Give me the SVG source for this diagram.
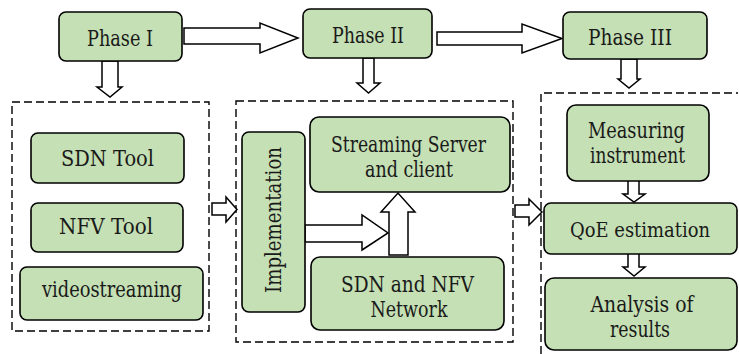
<svg xmlns="http://www.w3.org/2000/svg" width="739" height="354" viewBox="0 0 739 354">
<style>
.n{fill:#c5e0b4;stroke:#000;stroke-width:1.6}
.d{fill:none;stroke:#000;stroke-width:1.4;stroke-dasharray:8 4}
.a{fill:#fff;stroke:#000;stroke-width:1.5;stroke-linejoin:miter}
text{font-family:'DejaVu Serif','Liberation Serif','Times New Roman',serif;font-size:22.5px;fill:#1a1a1a;text-anchor:middle}
</style>
<rect width="739" height="354" fill="#fff"/>
<g id="containers">
<rect class="d" x="12" y="102" width="197" height="229"/>
<rect class="d" x="236" y="101" width="277" height="241"/>
<path class="d" d="M541,354 V93 H738"/>
</g>
<g id="connectors">
<polygon class="a" points="184,28 260,28 260,23 298,38 260,53 260,44 184,44"/>
<polygon class="a" points="437,32 522,32 522,24 562,38.5 522,53 522,45 437,45"/>
<polygon class="a" points="102,61 118,61 118,87 122,87 110,97 97,87 102,87"/>
<polygon class="a" points="363,58 374,58 374,83 380,83 368.5,93 357,83 363,83"/>
<polygon class="a" points="621,59 637,59 637,79 640,79 629,88 618,79 621,79"/>
<polygon class="a" points="212,203 226,203 226,197 237,209.5 226,222 226,215 212,215"/>
<polygon class="a" points="515,205 529,205 529,199 542,212 529,225 529,217 515,217"/>
<polygon class="a" points="305,225 362,225 362,215 388,233 362,250 362,242 305,242"/>
<polygon class="a" points="389,255 408,255 408,212 415,212 398,193 381,212 389,212"/>
<polygon class="a" points="628,180 639,180 639,194 645,194 634,202 623,194 628,194"/>
<polygon class="a" points="628,253 639,253 639,267 645,267 634,276 623,267 628,267"/>
</g>
<g id="phase1"><rect class="n" x="59" y="12" width="123" height="49" rx="7"/><text x="120" y="46" textLength="66" lengthAdjust="spacingAndGlyphs">Phase I</text></g>
<g id="phase2"><rect class="n" x="303" y="9" width="129" height="49" rx="7"/><text x="368" y="43" textLength="72" lengthAdjust="spacingAndGlyphs">Phase II</text></g>
<g id="phase3"><rect class="n" x="563" y="12" width="144" height="47" rx="7"/><text x="630" y="45" textLength="84" lengthAdjust="spacingAndGlyphs">Phase III</text></g>
<g id="sdntool"><rect class="n" x="31" y="133" width="153" height="50" rx="7"/><text x="107.5" y="166" textLength="93" lengthAdjust="spacingAndGlyphs">SDN Tool</text></g>
<g id="nfvtool"><rect class="n" x="31" y="203" width="152" height="49" rx="7"/><text x="106" y="234" textLength="94" lengthAdjust="spacingAndGlyphs">NFV Tool</text></g>
<g id="videostreaming"><rect class="n" x="20" y="267" width="183" height="53" rx="7"/><text x="112" y="297" textLength="140" lengthAdjust="spacingAndGlyphs">videostreaming</text></g>
<g id="implementation"><rect class="n" x="242" y="132" width="63" height="180" rx="7"/><text transform="translate(281,220) rotate(-90)" x="0" y="0" textLength="146" lengthAdjust="spacingAndGlyphs">Implementation</text></g>
<g id="server"><rect class="n" x="310" y="117" width="200" height="75" rx="9"/><text x="408.5" y="152" textLength="155" lengthAdjust="spacingAndGlyphs">Streaming Server</text><text x="409" y="177" textLength="88" lengthAdjust="spacingAndGlyphs">and client</text></g>
<g id="network"><rect class="n" x="311" y="257" width="193" height="73" rx="9"/><text x="407.5" y="292" textLength="133" lengthAdjust="spacingAndGlyphs">SDN and NFV</text><text x="409" y="317" textLength="77" lengthAdjust="spacingAndGlyphs">Network</text></g>
<g id="measuring"><rect class="n" x="567" y="105" width="142" height="76" rx="9"/><text x="636.5" y="138" textLength="97" lengthAdjust="spacingAndGlyphs">Measuring</text><text x="637.5" y="163" textLength="95" lengthAdjust="spacingAndGlyphs">instrument</text></g>
<g id="qoe"><rect class="n" x="544" y="203" width="193" height="51" rx="7"/><text x="640" y="237" font-size="20.5" style="font-size:20.5px" textLength="140" lengthAdjust="spacingAndGlyphs">QoE estimation</text></g>
<g id="analysis"><rect class="n" x="545" y="278" width="192" height="72" rx="9"/><text x="642" y="312" textLength="103" lengthAdjust="spacingAndGlyphs">Analysis of</text><text x="640" y="337" textLength="60" lengthAdjust="spacingAndGlyphs">results</text></g>
</svg>
